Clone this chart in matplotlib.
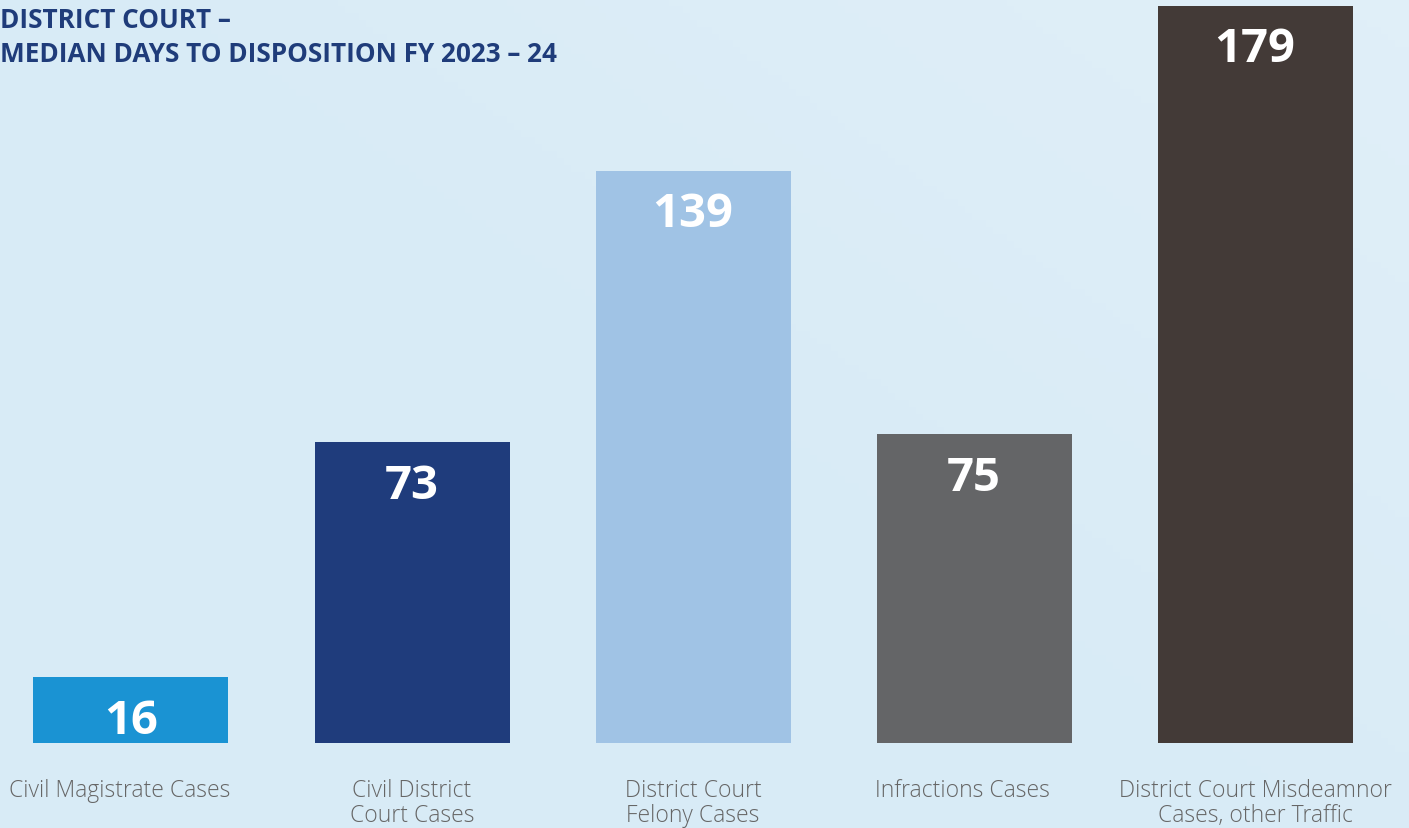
import matplotlib.pyplot as plt
import numpy as np

categories = ['Civil Magistrate Cases', 'Civil District\nCourt Cases', 'District Court\nFelony Cases',
              'Infractions Cases', 'District Court Misdeamnor\nCases, other Traffic']
median_days = [16, 73, 139, 75, 179]
bar_colors = ['#1a93d3', '#1f3c7c', '#a0c3e5', '#646567', '#433a37']
title_lines = ['DISTRICT COURT \u2013', 'MEDIAN DAYS TO DISPOSITION FY 2023 \u2013 24']

W, H = 1409, 829
fig = plt.figure(figsize=(W / 100, H / 100), dpi=100)
bg = '#d8ebf6'
fig.patch.set_facecolor(bg)
ax = fig.add_axes([0, 0, 1, 1])
ax.set_facecolor(bg)

# pixel geometry of the reference
x0, step = 131.0, 281.0
base_px = 85.0
ppu = 737.0 / 179
ax.set_xlim(-x0 / step, (W - x0) / step)
ax.set_ylim(-base_px / ppu, (H - base_px) / ppu)

# soft light gradient towards top right
gx = np.linspace(0, 1, 200)
gy = np.linspace(0, 1, 120)
GX, GY = np.meshgrid(gx, gy)
g = np.clip(GX * 0.6 + GY * 0.5 - 0.5, 0, 1)
c0 = np.array([0xd8, 0xeb, 0xf6]) / 255
c1 = np.array([0xe6, 0xf2, 0xfa]) / 255
img = c0[None, None, :] * (1 - g[..., None]) + c1[None, None, :] * g[..., None]
ax.imshow(img, extent=[*ax.get_xlim(), *ax.get_ylim()], origin='lower', aspect='auto', zorder=0)

xs = np.arange(len(categories))
ax.bar(xs, median_days, width=195 / step, color=bar_colors, zorder=2)

for x, v in zip(xs, median_days):
    ax.annotate(str(v), (x, v), xytext=(0, -14), textcoords='offset points',
                ha='center', va='top', fontsize=34, fontweight='bold',
                family='Open Sans', color='white', zorder=3)

for x, lab in zip(xs, categories):
    # single-line labels sit a little left of the bar centre in the original
    dx = 0 if '\n' in lab else -8
    ax.annotate(lab, (x, 0), xytext=(dx, -25), textcoords='offset points',
                ha='center', va='top', fontsize=16.5, fontweight='light',
                family='Open Sans', color='#666666', linespacing=1.08)

fig.text(0.0, 1 - 20 / H, title_lines[0], ha='left', va='center', fontsize=18.8,
         fontweight='bold', family='Open Sans', color='#1f3c7a')
fig.text(0.0, 1 - 55 / H, title_lines[1], ha='left', va='center', fontsize=18.8,
         fontweight='bold', family='Open Sans', color='#1f3c7a')

ax.axis('off')
fig.savefig('out.png', dpi=100, facecolor=bg)
